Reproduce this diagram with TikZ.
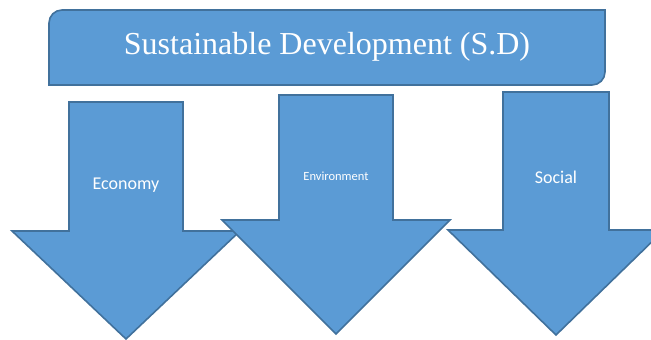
\documentclass[tikz,border=0pt]{standalone}
\usepackage{fontspec}
\setmainfont{Liberation Serif}
\newfontfamily\calfont{Carlito}
\definecolor{shapefill}{HTML}{5B9BD5}
\definecolor{shapeline}{HTML}{41719C}
\begin{document}
\begin{tikzpicture}[x=1pt,y=1pt,
  shapestyle/.style={fill=shapefill,draw=shapeline,line width=1.6pt,line join=miter},
  titletext/.style={text=white,font=\fontsize{32}{36}\selectfont,inner sep=0pt},
  armtext/.style={text=white,font=\calfont\fontsize{18}{22}\selectfont,inner sep=0pt},
  smalltext/.style={text=white,font=\calfont\fontsize{12.5}{15}\selectfont,inner sep=0pt}]
\useasboundingbox (0,0) rectangle (651,340);
\clip (0,0) rectangle (651,340);
% title box (rounded diagonal corners)
\draw[shapestyle] (49,255) -- (49,317) arc[start angle=180,end angle=90,radius=13]
  -- (605,330) -- (605,268) arc[start angle=0,end angle=-90,radius=13] -- cycle;
\node[titletext] (title) at (327,293) {Sustainable Development (S.D)};
% arrow 1
\draw[shapestyle] (69,238) -- (183,238) -- (183,109) -- (240,109) -- (126,1)
  -- (12,109) -- (69,109) -- cycle;
\node[armtext] (economy) at (126,155) {Economy};
% arrow 2
\draw[shapestyle] (279,245) -- (393,245) -- (393,120) -- (450,120) -- (336,6)
  -- (222,120) -- (279,120) -- cycle;
\node[smalltext] (environment) at (336,164) {Environment};
% arrow 3
\draw[shapestyle] (503,248) -- (609,248) -- (609,110) -- (664,110) -- (556,5)
  -- (448,110) -- (503,110) -- cycle;
\node[armtext] (social) at (556,163) {Social};
\end{tikzpicture}
\end{document}
